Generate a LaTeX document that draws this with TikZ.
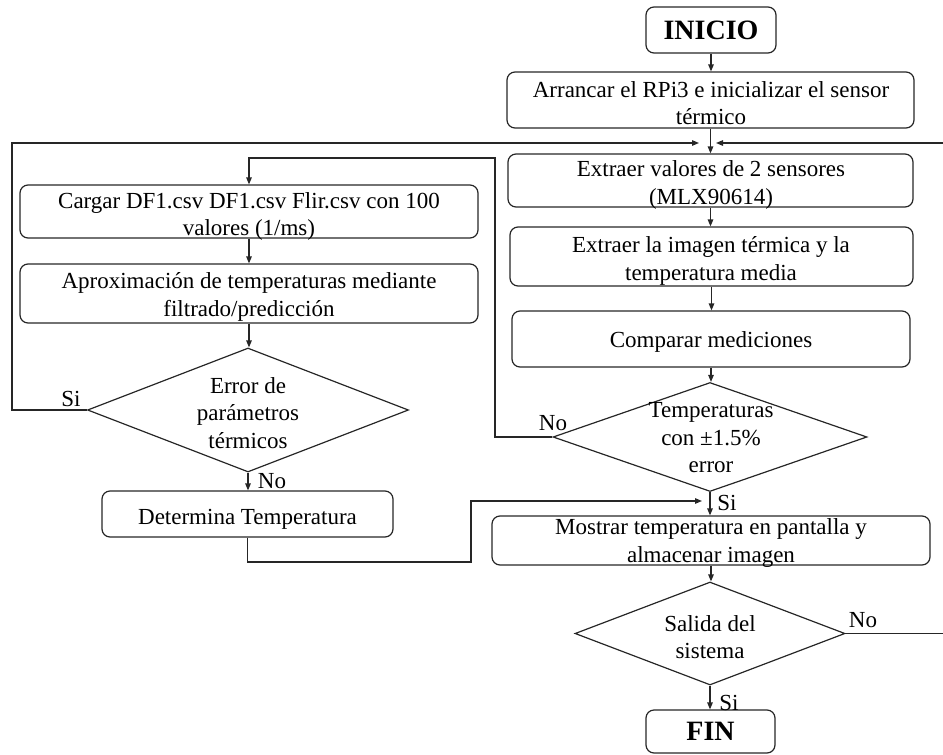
\documentclass[tikz,border=0pt]{standalone}
\usepackage{fontspec}
\setmainfont{Liberation Serif}
\usetikzlibrary{shapes.geometric,arrows.meta}
\begin{document}
\begin{tikzpicture}[x=1pt,y=-1pt,
 box/.style={draw=black!85, line width=1.2pt, rounded corners=8pt, inner sep=0pt},
 term/.style={box, font=\fontsize{28}{30}\selectfont\bfseries},
 dia/.style={draw=black!85, line width=1.2pt, diamond, inner sep=0pt},
 txt/.style={align=center, inner sep=0pt, font=\fontsize{23}{27.5}\selectfont},
 lbl/.style={inner sep=0pt, font=\fontsize{23}{27.5}\selectfont},
 con/.style={draw=black!85, line width=1.2pt},
 arw/.style={con, -{Triangle[length=7pt,width=5.5pt]}}]
\useasboundingbox (0,0) rectangle (943,755);
% right column
\node[term, minimum width=130pt, minimum height=46pt] (inicio) at (711,30) {INICIO};
\node[box, minimum width=407pt, minimum height=56pt] (arran) at (710.5,100) {};
\node[txt] (arrant) at (711,103) {Arrancar el RPi3 e inicializar el sensor\\térmico};
\node[box, minimum width=405pt, minimum height=53pt] (ext1) at (710.5,180.5) {};
\node[txt] (ext1t) at (711,185) {Extraer valores de 2 sensores\\(MLX90614)};
\node[box, minimum width=403pt, minimum height=59pt] (ext2) at (711.5,256.5) {};
\node[txt] (ext2t) at (711,261) {Extraer la imagen térmica y la\\temperatura media};
\node[box, minimum width=398pt, minimum height=56pt] (comp) at (711,339) {};
\node[txt] (compt) at (711,342) {Comparar mediciones};
\node[dia, minimum width=314pt, minimum height=109pt] (tmp) at (710,437) {};
\node[txt] (tmpt) at (711,438) {Temperaturas\\con ±1.5\%\\error};
\node[box, minimum width=438pt, minimum height=49pt] (most) at (711,540.5) {};
\node[txt] (mostt) at (711,543) {Mostrar temperatura en pantalla y\\almacenar imagen};
\node[dia, minimum width=270pt, minimum height=103pt] (sal) at (710,633.5) {};
\node[txt] (salt) at (710,637) {Salida del\\sistema};
\node[term, minimum width=129pt, minimum height=43pt] (fin) at (710.5,731.5) {FIN};
% left column
\node[box, minimum width=458pt, minimum height=53pt] (carg) at (249,211.5) {};
\node[txt] (cargt) at (249,216.5) {Cargar DF1.csv DF1.csv Flir.csv con 100\\valores (1/ms)};
\node[box, minimum width=458pt, minimum height=59pt] (apro) at (249,293.5) {};
\node[txt] (aprot) at (249,297) {Aproximación de temperaturas mediante\\filtrado/predicción};
\node[dia, minimum width=321pt, minimum height=124pt] (err) at (248,410) {};
\node[txt] (errt) at (248,413) {Error de\\parámetros\\térmicos};
\node[box, minimum width=291pt, minimum height=46pt] (det) at (247.5,514) {};
\node[txt] (dett) at (247.5,519) {Determina Temperatura};
% junction coordinates
\coordinate (jl) at (699,143);
\coordinate (jr) at (716,143);
\coordinate (jm) at (702,501);
\coordinate (eL) at (943,143);
\coordinate (eR) at (943,633.5);
% connectors
\draw[arw] (inicio.south) -- (inicio.south |- arran.north);
\draw[arw] (arran.south) -- (arran.south |- ext1.north);
\draw[arw] (ext1.south) -- (ext1.south |- ext2.north);
\draw[arw] (ext2.south) -- (ext2.south |- comp.north);
\draw[arw] (comp.south) -- (comp.south |- tmp.north);
\draw[arw] (tmp.south) -- (tmp.south |- most.north);
\draw[arw] (most.south) -- (most.south |- sal.north);
\draw[arw] (sal.south) -- (sal.south |- fin.north);
\draw[con] (sal.east) -- (eR);
\draw[arw] (eL) -- (jr);
\draw[arw] (tmp.west) -| (495,158) -| (carg.north);
\draw[arw] (carg.south) -- (carg.south |- apro.north);
\draw[arw] (apro.south) -- (apro.south |- err.north);
\draw[arw] (err.south) -- (err.south |- det.north);
\draw[arw] (err.west) -| (12,143) -- (jl);
\draw[arw] (det.south) |- (471,562) |- (jm);
% labels
\node[lbl] (l1) at (71,399) {Si};
\node[lbl] (l2) at (272,481) {No};
\node[lbl] (l3) at (553,423) {No};
\node[lbl] (l4) at (727,503) {Si};
\node[lbl] (l5) at (863,620) {No};
\node[lbl] (l6) at (729,703) {Si};
\end{tikzpicture}
\end{document}
